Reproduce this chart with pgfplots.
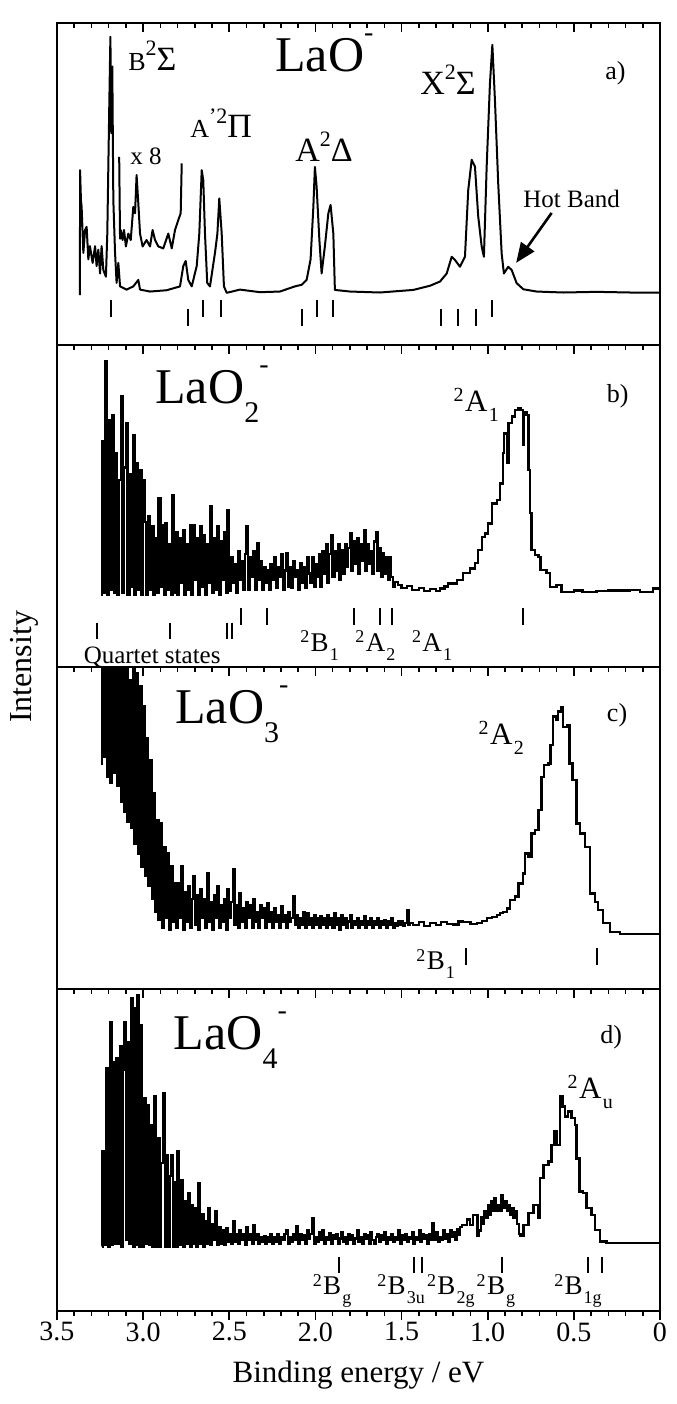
\documentclass[border=0pt]{standalone}
\usepackage{fontspec}
\setmainfont{Liberation Serif}
\usepackage{pgfplots}
\pgfplotsset{compat=1.18}
\usetikzlibrary{arrows.meta}
\newcommand{\fs}[1]{\fontsize{#1}{#1}\selectfont}
% term symbol: ^2 X _sub ; #3 = script size
\newcommand{\term}[3]{\raisebox{0.32em}{\fs{#3}2}\kern0.05em #1\kern0.04em\raisebox{-0.32em}{\fs{#3}#2}}

\pgfplotsset{
  panel/.style={
    scale only axis, width=301.5pt, height=161pt, anchor=south west,
    x dir=reverse, xmin=0, xmax=3.5, ymin=0, ymax=100,
    xtick={0,0.5,...,3.5}, minor x tick num=4, ytick=\empty,
    xtick pos=right, tick align=inside,
    major tick length=4.5pt, minor tick length=2.5pt,
    tick style={line width=0.8pt, black},
    axis line style={line width=1pt},
    clip mode=individual,
  },
  nolab/.style={xticklabel=\empty},
  spec/.style={black, line width=1pt, line join=round, mark=none},
  noisy/.style={black, line width=1.15pt, line join=miter, mark=none, const plot},
  sticks/.style={black, only marks, mark=|, mark size=4.4pt, mark options={line width=1pt}},
}
\tikzset{lab/.style={anchor=base west, inner sep=0pt}}

\begin{document}
\begin{tikzpicture}
\useasboundingbox (0,0) rectangle (338pt,702pt);
\node[rotate=90, font=\fs{16}] at (12pt,368.5pt) {Intensity};

% ---------- a) LaO-
\begin{axis}[panel, nolab, at={(28.5pt,529.5pt)}]
\addplot[spec] coordinates {
(3.367,15.5)(3.366,54.3)(3.361,45.0)(3.357,42.9)(3.347,28.6)(3.337,35.7)(3.328,36.7)(3.318,26.6)
(3.309,30.7)(3.293,25.5)(3.279,30.7)(3.270,24.5)(3.260,29.6)(3.250,22.2)(3.241,30.7)(3.231,23.3)
(3.216,21.2)(3.208,34.6)(3.196,76.1)(3.190,95.7)(3.185,65.8)(3.179,86.5)(3.173,45.0)(3.163,28.6)
(3.154,19.3)(3.144,25.5)(3.134,18.2)(3.096,17.2)(3.057,18.2)(3.028,20.2)(3.018,17.2)(2.960,16.6)
(2.864,17.0)(2.786,18.2)(2.767,24.5)(2.753,26.1)(2.738,20.2)(2.718,18.2)(2.689,24.5)(2.674,34.6)
(2.660,54.3)(2.651,51.2)(2.641,34.6)(2.628,19.3)(2.612,18.2)(2.583,28.6)(2.569,34.6)(2.558,45.5)
(2.544,34.6)(2.531,18.2)(2.515,16.2)(2.438,17.2)(2.322,16.4)(2.206,16.6)(2.119,18.2)(2.080,18.7)
(2.051,20.2)(2.028,26.6)(2.012,42.9)(2.003,55.3)(1.993,49.1)(1.977,32.6)(1.964,22.2)(1.945,30.7)
(1.925,40.9)(1.912,43.5)(1.896,34.6)(1.887,17.1)(1.799,16.6)(1.625,16.3)(1.432,17.1)(1.335,18.4)
(1.277,19.7)(1.238,22.2)(1.209,27.4)(1.190,26.4)(1.161,24.3)(1.132,27.4)(1.113,48.1)(1.093,57.5)
(1.074,55.4)(1.055,39.9)(1.035,30.6)(1.022,27.4)(1.006,55.4)(0.987,81.2)(0.973,93.2)(0.958,76.1)
(0.939,50.2)(0.919,28.4)(0.906,22.2)(0.881,24.3)(0.861,23.3)(0.832,19.2)(0.793,17.3)(0.716,16.6)
(0.561,16.3)(0.368,16.5)(0.174,16.3)(0.000,16.3)
};
% x 8 trace
\addplot[spec] coordinates {
(3.139,58.4)(3.134,33.0)(3.130,35.7)(3.119,32.6)(3.111,35.7)(3.100,30.6)(3.086,34.6)(3.072,32.6)
(3.057,42.9)(3.047,40.9)(3.038,52.8)(3.028,44.0)(3.018,34.6)(3.003,30.6)(2.980,32.6)(2.960,30.6)
(2.945,35.7)(2.931,32.6)(2.912,30.6)(2.883,30.0)(2.854,34.6)(2.834,30.0)(2.815,35.7)(2.796,38.8)
(2.782,40.9)(2.776,56.4)
};
\addplot[sticks] coordinates {(3.188,11.3)(2.652,11.3)(2.548,11.3)(1.989,11.3)(1.898,11.3)(0.975,11.3)};
\addplot[sticks] coordinates {(2.741,8.5)(2.080,8.5)(1.273,8.5)(1.173,8.5)(1.070,8.5)};
\node[lab, font=\fs{17}] at (axis cs:3.088,85.4) {{\fs{13}B}\raisebox{0.42em}{\fs{11}2}Σ};
\node[lab, font=\fs{25}] at (axis cs:2.235,84.9) {LaO\raisebox{0.6em}{\fs{14}-}};
\node[lab, font=\fs{12.5}] at (axis cs:3.076,55.9) {x 8};
\node[lab, font=\fs{17}] at (axis cs:2.728,64.3) {{\fs{13}A}\raisebox{0.42em}{\fs{11}'2}Π};
\node[lab, font=\fs{17}] at (axis cs:2.119,57.1) {A\raisebox{0.42em}{\fs{11}2}Δ};
\node[lab, font=\fs{17}] at (axis cs:1.393,77.9) {X\raisebox{0.42em}{\fs{11}2}Σ};
\node[lab, font=\fs{13}] at (axis cs:0.319,82.5) {a)};
\node[lab, font=\fs{12.5}] at (axis cs:0.795,42.6) {Hot Band};
\draw[line width=1.3pt, -{Triangle[length=10pt,width=8pt]}] (axis cs:0.629,41.0) -- (axis cs:0.835,25.5);
\end{axis}

% ---------- b) LaO2-
\begin{axis}[panel, nolab, at={(28.5pt,368.5pt)}]
\addplot[noisy] coordinates {
(3.245,22.4)(3.240,70.0)(3.230,23)(3.220,94.9)(3.210,22.5)(3.200,76.7)(3.190,24)(3.180,78.3)(3.170,23)
(3.160,66.4)(3.150,22.5)(3.140,58)(3.130,84.2)(3.120,23)(3.110,62)(3.100,75.7)(3.090,22.5)(3.080,60)
(3.070,25)(3.060,72.1)(3.050,22.5)(3.040,63.3)(3.030,24)(3.020,61.2)(3.010,22.5)(3.000,58.1)(2.990,45)
(2.980,22.5)(2.970,46.7)(2.960,24)(2.950,43.6)(2.940,22.5)(2.930,40)(2.920,23)(2.910,52.4)(2.900,25)
(2.890,44)(2.880,22.5)(2.870,44.6)(2.860,24)(2.850,38)(2.840,22.5)(2.830,53.4)(2.820,23)(2.810,42)
(2.800,22.5)(2.790,40)(2.780,26)(2.770,42.6)(2.760,22.5)(2.750,38)(2.740,24)(2.730,44)(2.720,22.5)
(2.710,44.1)(2.700,27)(2.690,40)(2.680,22.5)(2.670,43.6)(2.660,25)(2.650,41)(2.640,22.5)(2.630,38)
(2.620,26)(2.610,49.8)(2.600,23)(2.590,40)(2.580,24)(2.570,43.6)(2.560,22.5)(2.550,39)(2.540,27)
(2.530,42)(2.520,23)(2.510,48.7)(2.500,23.5)(2.490,34.2)(2.480,26)(2.470,32)(2.460,23)(2.450,36)
(2.440,27)(2.430,33)(2.420,24)(2.410,35)(2.400,43.6)(2.390,24)(2.380,34)(2.370,28)(2.360,36)
(2.350,24)(2.340,38.5)(2.330,27)(2.320,33)(2.310,24)(2.300,31)(2.290,26)(2.280,30.2)(2.270,24)
(2.260,32)(2.250,27)(2.240,34)(2.230,24.5)(2.220,31)(2.210,28)(2.200,35)(2.190,24)(2.180,30)
(2.170,35.4)(2.160,25)(2.150,31)(2.140,24.5)(2.130,33)(2.120,28)(2.110,30)(2.100,24)(2.090,32.3)
(2.080,26)(2.070,31)(2.060,24.5)(2.050,34)(2.040,29)(2.030,26)(2.020,34.2)(2.010,25)(2.000,32)
(1.990,28)(1.980,35)(1.970,25)(1.960,36)(1.950,29)(1.940,38)(1.930,26)(1.920,35)(1.910,40.9)
(1.900,28)(1.890,36)(1.880,30)(1.870,38)(1.860,27)(1.850,36.3)(1.840,29)(1.830,38)(1.820,31)
(1.810,37)(1.800,41.5)(1.790,30)(1.780,39)(1.770,32)(1.760,40)(1.750,29)(1.740,38)(1.730,33)
(1.720,42.6)(1.710,30)(1.700,38)(1.690,32)(1.680,36)(1.670,29)(1.660,39)(1.650,42.0)(1.640,30)
(1.630,37)(1.620,28)(1.610,35.4)(1.600,29)(1.590,34)(1.580,27)(1.570,34.2)(1.560,28)(1.550,24.9)
(1.538,26.5)(1.520,25.5)(1.500,24.5)(1.470,25.2)(1.440,24.0)(1.400,24.6)(1.370,23.6)(1.335,24.2)
(1.300,23.5)(1.277,24.4)(1.250,25.0)(1.229,25.9)(1.180,27.0)(1.142,29.1)(1.103,30.6)(1.074,32.2)
(1.055,36.3)(1.035,40.4)(1.016,41.5)(0.997,44.6)(0.977,50.8)(0.948,51.8)(0.929,57.0)(0.913,66.4)
(0.904,72.5)(0.890,63.3)(0.880,75.7)(0.861,77.8)(0.842,79.8)(0.822,80.4)(0.809,79.8)(0.797,69.0)
(0.790,79.2)(0.774,78.2)(0.764,61.2)(0.755,47.8)(0.745,36.3)(0.726,34.8)(0.706,34.2)(0.693,30.1)
(0.658,29.1)(0.639,24.9)(0.600,25.4)(0.571,23.3)(0.500,23.8)(0.450,23.3)(0.368,23.5)(0.300,23.8)
(0.174,24.0)(0.116,23.3)(0.039,24.4)(0.000,23.9)
};
\addplot[sticks, mark size=4.2pt] coordinates {(2.434,15.7)(2.283,15.7)(1.776,15.7)(1.625,15.7)(1.558,15.7)(0.794,15.7)};
\addplot[sticks, mark size=4.2pt] coordinates {(3.270,11.2)(2.844,11.2)(2.515,11.2)(2.486,11.2)};
\node[lab, font=\fs{25}] at (axis cs:2.931,81.9) {LaO\raisebox{-0.38em}{\fs{15}2}\raisebox{0.6em}{\fs{14}-}};
\node[lab, font=\fs{15.5}] at (axis cs:1.200,79.3) {\term{A}{1}{10}};
\node[lab, font=\fs{13}] at (axis cs:0.310,82.0) {b)};
\node[lab, font=\fs{12.5}] at (axis cs:3.347,1.2) {Quartet states};
\node[lab, font=\fs{13.5}] at (axis cs:2.090,4.8) {\term{B}{1}{9}};
\node[lab, font=\fs{13.5}] at (axis cs:1.770,4.8) {\term{A}{2}{9}};
\node[lab, font=\fs{13.5}] at (axis cs:1.441,4.8) {\term{A}{1}{9}};
\end{axis}

% ---------- c) LaO3-
\begin{axis}[panel, nolab, at={(28.5pt,207.5pt)}]
\addplot[noisy] coordinates {
(3.245,70)(3.240,110)(3.230,72)(3.220,110)(3.210,66)(3.200,110)(3.190,64)(3.180,110)(3.170,67)
(3.160,105)(3.150,63)(3.140,110)(3.130,58)(3.120,100)(3.110,55)(3.100,108)(3.090,52)(3.080,96)
(3.070,50)(3.060,102)(3.050,45)(3.040,98)(3.030,42)(3.020,93.9)(3.010,38)(3.000,87.7)(2.990,35)
(2.980,78)(2.970,32)(2.960,71.1)(2.950,28)(2.940,60.8)(2.930,24)(2.920,52.5)(2.910,21.5)(2.900,51.5)
(2.890,19)(2.880,44)(2.870,22)(2.860,42.2)(2.850,18.4)(2.840,38.1)(2.830,21)(2.820,33)(2.810,19)
(2.800,32.9)(2.790,22)(2.780,38.1)(2.770,18.4)(2.760,30)(2.750,21)(2.740,31.9)(2.730,19)(2.720,28)
(2.710,35.0)(2.700,20)(2.690,29)(2.680,18.4)(2.670,30.9)(2.660,22)(2.650,28)(2.640,19)(2.630,36.1)
(2.620,21)(2.610,27)(2.600,18.4)(2.590,29)(2.580,22)(2.570,31.9)(2.560,19)(2.550,26)(2.540,21)
(2.530,28)(2.520,18.4)(2.510,30.9)(2.500,22)(2.490,27)(2.480,37.1)(2.470,20)(2.460,26)(2.450,19)
(2.440,29.8)(2.430,21)(2.420,25)(2.410,19)(2.400,27)(2.390,22)(2.380,26)(2.370,19)(2.360,27.8)
(2.350,21)(2.340,24)(2.330,19)(2.320,26)(2.310,22)(2.300,25)(2.290,19)(2.280,26.7)(2.270,21)
(2.260,24)(2.250,19)(2.240,25)(2.230,21)(2.220,23)(2.210,19)(2.200,25.7)(2.190,21)(2.180,23)
(2.170,19)(2.160,24)(2.150,21)(2.140,22)(2.130,28.8)(2.120,20)(2.110,23)(2.100,19)(2.090,22)
(2.080,20)(2.070,24)(2.060,19)(2.050,23.6)(2.040,20)(2.030,22)(2.020,19)(2.010,23)(2.000,20)
(1.990,22)(1.980,19)(1.970,22.6)(1.960,20)(1.950,22)(1.940,19)(1.930,23)(1.920,20)(1.910,22)
(1.900,19)(1.890,23.6)(1.880,20)(1.870,22)(1.860,18.5)(1.850,23)(1.840,20)(1.830,22)(1.820,19)
(1.810,21)(1.800,23)(1.790,19)(1.780,21)(1.770,20)(1.760,22)(1.750,19)(1.740,21)(1.730,20)
(1.720,22.5)(1.710,19)(1.700,21)(1.690,20)(1.680,22)(1.670,19)(1.660,21)(1.650,20)(1.640,22)
(1.630,19)(1.620,21)(1.610,20)(1.600,21.5)(1.590,19)(1.580,21)(1.570,20)(1.560,22)(1.550,19)
(1.540,20.5)(1.530,19.5)(1.520,21)(1.510,20)(1.500,21)(1.490,19.5)(1.480,20.5)(1.470,24.5)
(1.460,20)(1.450,20.5)(1.432,19.9)(1.400,20.8)(1.370,19.6)(1.335,20.4)(1.300,19.8)(1.270,20.9)
(1.238,20.2)(1.200,20.0)(1.170,21.0)(1.142,20.9)(1.100,20.1)(1.064,20.4)(1.035,21.2)(1.006,22.0)
(0.975,22.4)(0.948,23.0)(0.930,23.5)(0.910,24.0)(0.890,25.0)(0.871,27.6)(0.842,28.7)(0.822,32.8)
(0.797,35.9)(0.784,42.1)(0.764,41.0)(0.745,48.3)(0.726,49.3)(0.706,55.5)(0.687,65.9)(0.673,69.5)
(0.648,70.0)(0.635,75.7)(0.619,84.6)(0.604,83.6)(0.590,86.2)(0.575,87.5)(0.561,81.3)(0.538,81.8)
(0.526,70.0)(0.507,64.8)(0.484,51.4)(0.465,48.3)(0.435,44.1)(0.406,29.7)(0.377,27.1)(0.358,24.5)
(0.329,20.4)(0.290,17.8)(0.232,17.1)(0.000,16.8)
};
\addplot[sticks, mark size=4.2pt] coordinates {(1.128,10.0)(0.364,10.0)};
\node[lab, font=\fs{25}] at (axis cs:2.815,82.5) {LaO\raisebox{-0.38em}{\fs{15}3}\raisebox{0.6em}{\fs{14}-}};
\node[lab, font=\fs{15.5}] at (axis cs:1.055,75.8) {\term{A}{2}{10}};
\node[lab, font=\fs{13}] at (axis cs:0.310,83.0) {c)};
\node[lab, font=\fs{13.5}] at (axis cs:1.416,5.9) {\term{B}{1}{9}};
\end{axis}

% ---------- d) LaO4-
\begin{axis}[panel, nolab, at={(28.5pt,46.5pt)}]
\addplot[noisy] coordinates {
(3.240,20)(3.235,49.5)(3.225,20.5)(3.215,75.4)(3.205,20)(3.195,70)(3.190,89.8)(3.180,20.5)(3.175,77.4)
(3.165,21)(3.155,78.4)(3.145,21)(3.135,82.1)(3.125,20)(3.115,75)(3.110,89.8)(3.100,22)(3.090,83.6)
(3.080,21)(3.070,97.1)(3.060,20)(3.050,94.0)(3.040,20.5)(3.035,98.1)(3.025,20)(3.015,88.8)(3.005,20)
(2.995,66.0)(2.985,21)(2.975,64.0)(2.965,20.5)(2.955,57.8)(2.945,20)(2.935,66.6)(2.925,20)(2.915,53.6)
(2.905,20)(2.895,46)(2.885,67.6)(2.875,20)(2.865,48.4)(2.855,20)(2.845,42)(2.835,48.4)(2.825,20)
(2.815,40)(2.805,20)(2.800,49.5)(2.790,20.5)(2.780,40.7)(2.770,20)(2.760,34)(2.750,21)(2.740,36.6)
(2.730,20)(2.720,33.0)(2.710,21)(2.700,32)(2.690,20)(2.680,39.6)(2.670,21)(2.660,30)(2.650,20)
(2.640,28)(2.630,21)(2.620,32.0)(2.610,20.5)(2.600,27)(2.590,22)(2.580,30.9)(2.570,20.5)(2.560,26)
(2.550,21)(2.540,25)(2.530,20.5)(2.520,25.8)(2.510,21.5)(2.500,24)(2.490,21)(2.480,27.8)(2.470,21.5)
(2.460,24)(2.450,21)(2.440,25)(2.430,22)(2.420,24)(2.410,20.5)(2.400,26)(2.390,22)(2.380,24)
(2.370,21)(2.360,26.8)(2.350,22)(2.340,24)(2.330,21)(2.320,23)(2.310,21.5)(2.300,23.2)(2.290,21)
(2.280,23)(2.270,21.5)(2.260,24)(2.250,21)(2.240,23)(2.230,21.5)(2.220,24)(2.210,21)(2.200,23)
(2.190,22)(2.180,24)(2.170,25.2)(2.160,21)(2.150,23)(2.140,21.5)(2.130,24)(2.120,22)(2.110,26.2)
(2.100,21)(2.090,24)(2.080,22)(2.070,23.5)(2.060,21)(2.050,25)(2.040,22.5)(2.030,24)(2.020,28.8)
(2.010,21)(2.000,23)(1.990,21.5)(1.980,24.5)(1.970,22)(1.960,25)(1.950,21)(1.940,23)(1.930,22)
(1.920,24.2)(1.910,21)(1.900,23.5)(1.890,22.5)(1.880,24)(1.870,21)(1.860,22.5)(1.850,24.5)(1.840,21.5)
(1.830,23)(1.820,21)(1.810,24)(1.800,22)(1.790,23.5)(1.780,21)(1.770,22.5)(1.760,25)(1.750,21.5)
(1.740,23)(1.730,21)(1.720,24)(1.710,22.5)(1.700,23.5)(1.690,21)(1.680,24.5)(1.670,22)(1.660,21)
(1.650,23)(1.640,24)(1.630,21.5)(1.620,23.5)(1.610,22)(1.600,24.5)(1.590,21)(1.580,23)(1.570,22)
(1.560,24)(1.550,21.5)(1.540,23)(1.530,22)(1.520,25)(1.510,21)(1.500,23.5)(1.490,22)(1.480,24)
(1.470,21.5)(1.460,23)(1.450,22.5)(1.440,24.5)(1.430,21)(1.420,23)(1.410,22)(1.400,25)(1.390,21.5)
(1.380,24)(1.370,22.5)(1.360,23.5)(1.350,21)(1.340,24)(1.330,22)(1.320,27.3)(1.310,22)(1.300,24.5)
(1.290,21.5)(1.280,23)(1.270,22)(1.260,25)(1.250,22.5)(1.240,24)(1.230,21.5)(1.220,25)(1.210,23)
(1.200,24.5)(1.190,22)(1.180,25.5)(1.170,23.5)(1.160,26)(1.151,26.8)(1.122,28.4)(1.103,26.8)(1.084,29.9)
(1.060,23.2)(1.050,25)(1.040,29)(1.030,27)(1.020,31)(1.010,29)(1.000,33)(0.990,30)(0.980,34)
(0.970,31)(0.960,35)(0.950,31)(0.940,33)(0.930,31)(0.920,36.1)(0.910,32)(0.900,34)(0.890,31)
(0.880,33)(0.870,30)(0.860,32)(0.850,29)(0.840,31)(0.830,27)(0.820,24)(0.810,23.2)(0.793,26.8)
(0.764,30.4)(0.735,33.0)(0.706,28.8)(0.697,41.2)(0.677,45.4)(0.648,46.4)(0.629,51.6)(0.615,55.7)
(0.600,51.6)(0.581,66.6)(0.565,63.5)(0.552,60.4)(0.532,62.0)(0.513,59.9)(0.494,57.8)(0.484,47.4)
(0.468,37.1)(0.445,36.6)(0.426,32.0)(0.397,29.9)(0.377,25.2)(0.348,21.6)(0.310,21.1)(0.000,21.1)
};
\addplot[sticks, mark size=4.2pt] coordinates {(1.863,14.3)(1.429,14.3)(1.379,14.3)(0.916,14.3)(0.416,14.3)(0.339,14.3)};
\node[lab, font=\fs{25}] at (axis cs:2.825,81.1) {LaO\raisebox{-0.38em}{\fs{15}4}\raisebox{0.6em}{\fs{14}-}};
\node[lab, font=\fs{13}] at (axis cs:0.349,83.1) {d)};
\node[lab, font=\fs{15.5}] at (axis cs:0.538,66.0) {\term{A}{u}{10}};
\node[lab, font=\fs{13.5}] at (axis cs:2.017,5.0) {\term{B}{g}{9}};
\node[lab, font=\fs{13.5}] at (axis cs:1.643,5.0) {\term{B}{3u}{9}};
\node[lab, font=\fs{13.5}] at (axis cs:1.354,5.0) {\term{B}{2g}{9}};
\node[lab, font=\fs{13.5}] at (axis cs:1.066,5.0) {\term{B}{g}{9}};
\node[lab, font=\fs{13.5}] at (axis cs:0.616,5.0) {\term{B}{1g}{9}};
\end{axis}

% bottom ticks and labels
\begin{axis}[panel, at={(28.5pt,46.5pt)}, xtick pos=left, tick align=outside,
  xticklabels={0,0.5,1.0,1.5,2.0,2.5,3.0,3.5},
  xticklabel style={font=\fs{14}, inner sep=1pt},
  xlabel={Binding energy / eV},
  xlabel style={font=\fs{15.5}, at={(axis description cs:0.5,0)}, anchor=center, yshift=-32pt},
]
\end{axis}
\end{tikzpicture}
\end{document}
